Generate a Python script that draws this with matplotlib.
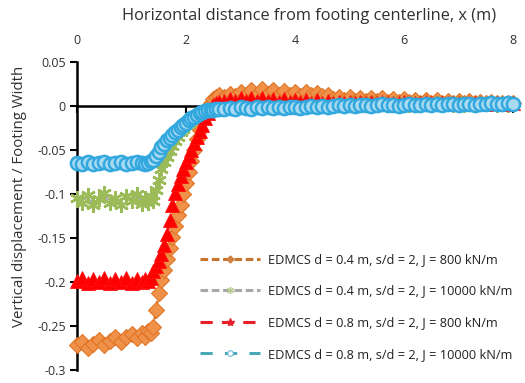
import matplotlib
matplotlib.use("Agg")
import matplotlib.pyplot as plt
from matplotlib.lines import Line2D

plt.rcParams["font.family"] = ["Open Sans", "DejaVu Sans"]
plt.rcParams["axes.unicode_minus"] = False

# Horizontal distance from footing centerline (m)
x = [0.0, 0.1, 0.2, 0.3, 0.4, 0.5, 0.6, 0.7, 0.8, 0.9, 1.0, 1.1, 1.2,
     1.25, 1.3, 1.35, 1.4, 1.45, 1.5, 1.55, 1.6, 1.65, 1.7, 1.75, 1.8, 1.85, 1.9,
     1.95, 2.0, 2.05, 2.1, 2.15, 2.2, 2.25, 2.3, 2.35, 2.4, 2.45, 2.5, 2.55, 2.6,
     2.7, 2.8, 2.9, 3.0, 3.1, 3.2, 3.3, 3.4, 3.5, 3.6, 3.7, 3.8, 3.9, 4.0, 4.1, 4.2,
     4.3, 4.4, 4.5, 4.6, 4.7, 4.8, 4.9, 5.0, 5.1, 5.2, 5.3, 5.4, 5.5, 5.6, 5.7, 5.8,
     5.9, 6.0, 6.1, 6.2, 6.3, 6.4, 6.5, 6.6, 6.7, 6.8, 6.9, 7.0, 7.1, 7.2, 7.3, 7.4,
     7.5, 7.6, 7.7, 7.8, 7.9, 8.0]

# Vertical displacement / footing width
d04_j800 = [-0.272, -0.268, -0.275, -0.270, -0.266, -0.272, -0.267, -0.263, -0.268, -0.262, -0.259, -0.264, -0.258,
            -0.262, -0.256, -0.258, -0.251, -0.232, -0.212, -0.198, -0.186, -0.174, -0.161, -0.149, -0.136, -0.124, -0.112,
            -0.100, -0.088, -0.075, -0.062, -0.050, -0.038, -0.027, -0.017, -0.008, -0.001, 0.004, 0.008, 0.010, 0.012,
            0.010, 0.014, 0.011, 0.016, 0.012, 0.018, 0.013, 0.019, 0.014, 0.018, 0.012, 0.017, 0.013, 0.016, 0.011, 0.016,
            0.012, 0.015, 0.011, 0.012, 0.008, 0.010, 0.007, 0.010, 0.006, 0.009, 0.006, 0.009, 0.006, 0.009, 0.005, 0.008,
            0.005, 0.008, 0.005, 0.007, 0.004, 0.007, 0.004, 0.007, 0.004, 0.006, 0.004, 0.006, 0.003, 0.006, 0.003, 0.005,
            0.003, 0.005, 0.003, 0.004, 0.003, 0.004]

d04_j10000 = [-0.104, -0.110, -0.101, -0.112, -0.106, -0.099, -0.110, -0.104, -0.113, -0.102, -0.108, -0.100, -0.111,
              -0.105, -0.110, -0.102, -0.108, -0.095, -0.084, -0.072, -0.064, -0.058, -0.051, -0.045, -0.040, -0.035, -0.030,
              -0.026, -0.022, -0.019, -0.016, -0.013, -0.011, -0.009, -0.007, -0.006, -0.005, -0.004, -0.003, -0.002, -0.002,
              -0.001, 0.000, -0.001, 0.001, 0.000, 0.001, -0.001, 0.001, 0.000, 0.002, 0.000, 0.001, 0.000, 0.002, 0.001, 0.002,
              0.000, 0.002, 0.001, 0.002, 0.001, 0.002, 0.001, 0.003, 0.001, 0.002, 0.001, 0.003, 0.001, 0.002, 0.001, 0.003,
              0.002, 0.002, 0.001, 0.003, 0.001, 0.002, 0.001, 0.003, 0.002, 0.002, 0.001, 0.003, 0.001, 0.002, 0.001, 0.003,
              0.002, 0.002, 0.001, 0.003, 0.001, 0.002]

d08_j800 = [-0.199, -0.196, -0.201, -0.197, -0.200, -0.196, -0.201, -0.197, -0.200, -0.196, -0.201, -0.197, -0.200,
            -0.197, -0.199, -0.195, -0.188, -0.182, -0.176, -0.168, -0.158, -0.146, -0.129, -0.113, -0.099, -0.089, -0.080,
            -0.072, -0.064, -0.057, -0.050, -0.042, -0.035, -0.028, -0.021, -0.014, -0.008, -0.003, 0.001, 0.003, 0.005,
            0.006, 0.008, 0.006, 0.009, 0.006, 0.009, 0.006, 0.009, 0.006, 0.008, 0.005, 0.008, 0.005, 0.007, 0.005, 0.007,
            0.004, 0.007, 0.004, 0.006, 0.004, 0.005, 0.003, 0.005, 0.003, 0.005, 0.003, 0.005, 0.003, 0.005, 0.003, 0.004,
            0.003, 0.005, 0.003, 0.004, 0.003, 0.005, 0.003, 0.004, 0.003, 0.004, 0.003, 0.004, 0.002, 0.004, 0.003, 0.004,
            0.002, 0.004, 0.003, 0.004, 0.002, 0.003]

d08_j10000 = [-0.065, -0.066, -0.064, -0.066, -0.065, -0.064, -0.066, -0.065, -0.064, -0.066, -0.065, -0.064, -0.065,
              -0.066, -0.065, -0.063, -0.061, -0.057, -0.052, -0.047, -0.043, -0.039, -0.036, -0.033, -0.030, -0.027, -0.024,
              -0.021, -0.019, -0.016, -0.014, -0.012, -0.010, -0.008, -0.007, -0.006, -0.005, -0.004, -0.004, -0.003, -0.003,
              -0.003, -0.002, -0.003, -0.001, -0.002, -0.003, -0.001, -0.002, -0.001, -0.002, -0.001, -0.002, -0.001, -0.001,
              -0.002, -0.001, 0.000, -0.001, 0.000, -0.001,
              0.000, 0.001, 0.000, 0.001, 0.000, 0.001, 0.001, 0.000, 0.001, 0.002, 0.001, 0.001, 0.000, 0.001, 0.002, 0.001,
              0.001, 0.002, 0.001, 0.002, 0.001, 0.002, 0.002, 0.001, 0.002, 0.002, 0.001, 0.002, 0.002, 0.003, 0.002, 0.002,
              0.003, 0.002]

labels = ["EDMCS d = 0.4 m, s/d = 2, J = 800 kN/m",
          "EDMCS d = 0.4 m, s/d = 2, J = 10000 kN/m",
          "EDMCS d = 0.8 m, s/d = 2, J = 800 kN/m",
          "EDMCS d = 0.8 m, s/d = 2, J = 10000 kN/m"]

x_ticks = [0, 2, 4, 6, 8]
y_ticks = [0.05, 0, -0.05, -0.1, -0.15, -0.2, -0.25, -0.3]
y_tick_labels = ["0.05", "0", "-0.05", "-0.1", "-0.15", "-0.2", "-0.25", "-0.3"]

fig = plt.figure(figsize=(5.25, 3.83), dpi=100)
ax = fig.add_axes([0.1467, 0.034, 0.8305, 0.804])

styles = [
    dict(color="#C8742E", marker="D", ms=8, mfc="#F0914A", mec="#E07424", mew=0.8,
         ls=(0, (3, 1.5)), lw=1.8),
    dict(color="#A8A8A8", marker=(6, 2, 0), ms=10.5, mfc="#9BBB59", mec="#9BBB59", mew=1.8,
         ls=(0, (3, 1.5)), lw=1.8),
    dict(color="#E8202A", marker="^", ms=10, mfc="#FF0000", mec="#FF1010", mew=0.6,
         ls=(0, (5, 3)), lw=1.8),
    dict(color="#4BACC6", marker="o", ms=9.5, mfc="#A8DAF2", mec="#33A8DE", mew=1.8,
         ls=(0, (4, 3)), lw=1.8),
]
series = [d04_j800, d04_j10000, d08_j800, d08_j10000]
for ys, st in zip(series, styles):
    ax.plot(x, ys, clip_on=False, zorder=3, **st)

ax.set_xlim(0, 8)
ax.set_ylim(-0.3, 0.05)

for side in ["top", "right"]:
    ax.spines[side].set_visible(False)
ax.spines["bottom"].set_position(("data", 0))
ax.spines["bottom"].set_linewidth(1.8)
ax.spines["left"].set_linewidth(1.8)
ax.spines["bottom"].set_zorder(2)

ax.set_xticks(x_ticks)
ax.set_xticklabels([str(t) for t in x_ticks])
ax.tick_params(axis="x", which="major", direction="out", length=5, width=1.5,
               bottom=True, top=False, labelbottom=False, labeltop=True,
               labelsize=9, labelcolor="#303030", pad=5.5)
ax.set_yticks(y_ticks)
ax.set_yticklabels(y_tick_labels)
ax.tick_params(axis="y", which="major", direction="out", length=5, width=1.5,
               labelsize=9, labelcolor="#303030", pad=3)

ax.set_ylabel("Vertical displacement / Footing Width", fontsize=10.8, color="#303030")
ax.yaxis.set_label_coords(-0.115, 0.565)

fig.text(0.589, 0.958, "Horizontal distance from footing centerline, x (m)",
         ha="center", va="center", fontsize=11.8, color="#303030")

handles = [
    Line2D([], [], color="#C8742E", ls=(0, (2.5, 1.2)), lw=2.2, marker="D", ms=3.5,
           mfc="#D08040", mec="#D08040"),
    Line2D([], [], color="#A8A8A8", ls=(0, (2.5, 1.2)), lw=2.2, marker=(6, 2, 0), ms=5,
           mfc="#B8CC90", mec="#B8CC90", mew=1),
    Line2D([], [], color="#E8202A", ls=(0, (4, 3)), lw=2.2, marker="*", ms=6,
           mfc="#E8202A", mec="#E8202A"),
    Line2D([], [], color="#4BA8B8", ls=(0, (4, 4)), lw=2.2, marker="o", ms=4,
           mfc="white", mec="#6BB8D8", mew=0.8),
]
fig.legend(handles, labels, loc="upper left", bbox_to_anchor=(200 / 525, 1 - 253 / 383),
           frameon=False, fontsize=9.2, handlelength=4.7, handletextpad=0.6,
           labelspacing=1.45, borderpad=0, borderaxespad=0, labelcolor="#202020")

fig.savefig("out.png", dpi=100)
